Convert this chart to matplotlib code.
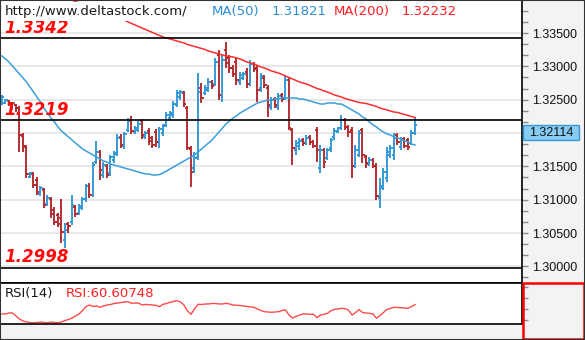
import matplotlib
matplotlib.use('Agg')
import matplotlib.pyplot as plt
from matplotlib.patches import Rectangle
from matplotlib.transforms import blended_transform_factory
import numpy as np

# ---------------- data ----------------
open_ = [1.32435, 1.32450, 1.32480, 1.32375, 1.32420, 1.32375, 1.31955, 1.31790, 1.31340, 1.31385,
         1.31295, 1.31085, 1.31145, 1.30935, 1.31010, 1.30845, 1.30770, 1.30725, 1.30395, 1.30635,
         1.30665, 1.30890, 1.30800, 1.30875, 1.31010, 1.31205, 1.31070, 1.31565, 1.31715, 1.31370,
         1.31505, 1.31400, 1.31595, 1.31685, 1.31940, 1.31805, 1.32045, 1.32195, 1.32015, 1.32045,
         1.32180, 1.31940, 1.32030, 1.31925, 1.32015, 1.31865, 1.32000, 1.32120, 1.32225, 1.32270,
         1.32420, 1.32540, 1.32600, 1.32375, 1.31760, 1.31475, 1.31640, 1.32675, 1.32600, 1.32645,
         1.32765, 1.32735, 1.33170, 1.32570, 1.33245, 1.33125, 1.32975, 1.33065, 1.32765, 1.32825,
         1.32915, 1.32735, 1.33035, 1.32975, 1.32675, 1.32825, 1.32675, 1.32390, 1.32510, 1.32390,
         1.32570, 1.32525, 1.32795, 1.32045, 1.31745, 1.31805, 1.31895, 1.31850, 1.31940, 1.31865,
         1.32045, 1.31475, 1.31745, 1.31625, 1.31775, 1.31940, 1.32015, 1.32075, 1.32195, 1.32090,
         1.32045, 1.31505, 1.31670, 1.32045, 1.31640, 1.31535, 1.31595, 1.31505, 1.31025, 1.31205,
         1.31325, 1.31670, 1.31670, 1.31970, 1.31790, 1.31910, 1.31895, 1.31850, 1.32000]
high = [1.32570, 1.32510, 1.32495, 1.32465, 1.32435, 1.32405, 1.32000, 1.31820, 1.31415, 1.31415,
        1.31340, 1.31205, 1.31175, 1.31070, 1.31040, 1.30890, 1.30800, 1.31010, 1.30650, 1.30665,
        1.31070, 1.30920, 1.30935, 1.31040, 1.31235, 1.31250, 1.31565, 1.31880, 1.31745, 1.31565,
        1.31535, 1.31670, 1.31730, 1.31985, 1.31985, 1.32015, 1.32225, 1.32255, 1.32105, 1.32180,
        1.32210, 1.32030, 1.32075, 1.31955, 1.32060, 1.32090, 1.32135, 1.32315, 1.32330, 1.32480,
        1.32645, 1.32645, 1.32630, 1.32405, 1.31805, 1.31715, 1.32900, 1.32750, 1.32720, 1.32825,
        1.32795, 1.33125, 1.33245, 1.33170, 1.33365, 1.33170, 1.33020, 1.33125, 1.32915, 1.32915,
        1.32975, 1.33095, 1.33065, 1.33020, 1.32900, 1.32870, 1.32720, 1.32540, 1.32540, 1.32600,
        1.32600, 1.32870, 1.32825, 1.32075, 1.31895, 1.31925, 1.31925, 1.31970, 1.31970, 1.31895,
        1.32090, 1.31820, 1.31775, 1.31775, 1.31925, 1.32075, 1.32090, 1.32270, 1.32225, 1.32120,
        1.32090, 1.31820, 1.32045, 1.32075, 1.31670, 1.31640, 1.31625, 1.31550, 1.31325, 1.31475,
        1.31790, 1.31820, 1.32000, 1.32000, 1.31940, 1.31940, 1.31925, 1.32045, 1.32240]
low = [1.32420, 1.32435, 1.32405, 1.32345, 1.32315, 1.31715, 1.31715, 1.31325, 1.31325, 1.31175,
       1.31070, 1.31055, 1.30875, 1.30905, 1.30725, 1.30620, 1.30590, 1.30350, 1.30275, 1.30500,
       1.30620, 1.30740, 1.30770, 1.30845, 1.30965, 1.31025, 1.31040, 1.31535, 1.31295, 1.31325,
       1.31325, 1.31355, 1.31550, 1.31655, 1.31775, 1.31760, 1.32015, 1.31985, 1.31985, 1.32015,
       1.31910, 1.31910, 1.31820, 1.31775, 1.31790, 1.31775, 1.31955, 1.32090, 1.32195, 1.32225,
       1.32390, 1.32495, 1.32390, 1.31745, 1.31190, 1.31400, 1.31595, 1.32450, 1.32570, 1.32615,
       1.32660, 1.32705, 1.32495, 1.32465, 1.32975, 1.32900, 1.32840, 1.32720, 1.32720, 1.32795,
       1.32675, 1.32705, 1.32915, 1.32465, 1.32615, 1.32675, 1.32240, 1.32345, 1.32375, 1.32345,
       1.32465, 1.32495, 1.32045, 1.31520, 1.31670, 1.31745, 1.31805, 1.31820, 1.31820, 1.31775,
       1.31565, 1.31400, 1.31475, 1.31595, 1.31715, 1.31895, 1.32000, 1.32045, 1.32045, 1.31940,
       1.31325, 1.31475, 1.31640, 1.31550, 1.31475, 1.31505, 1.31475, 1.30995, 1.30875, 1.31145,
       1.31265, 1.31625, 1.31595, 1.31820, 1.31745, 1.31775, 1.31745, 1.31820, 1.31970]
close = [1.32540, 1.32495, 1.32435, 1.32450, 1.32375, 1.31970, 1.31805, 1.31385, 1.31400, 1.31220,
         1.31115, 1.31175, 1.30920, 1.31025, 1.30785, 1.30665, 1.30635, 1.30515, 1.30545, 1.30605,
         1.30920, 1.30785, 1.30905, 1.31010, 1.31205, 1.31070, 1.31520, 1.31715, 1.31445, 1.31520,
         1.31370, 1.31640, 1.31700, 1.31925, 1.31820, 1.31985, 1.32180, 1.32030, 1.32075, 1.32135,
         1.31970, 1.32000, 1.31880, 1.31820, 1.31865, 1.32060, 1.32105, 1.32270, 1.32300, 1.32435,
         1.32600, 1.32615, 1.32435, 1.31775, 1.31415, 1.31625, 1.32615, 1.32525, 1.32675, 1.32765,
         1.32705, 1.33065, 1.32570, 1.33095, 1.33050, 1.32975, 1.32885, 1.32795, 1.32870, 1.32885,
         1.32735, 1.33035, 1.32960, 1.32645, 1.32855, 1.32720, 1.32420, 1.32495, 1.32420, 1.32555,
         1.32510, 1.32795, 1.32075, 1.31775, 1.31850, 1.31880, 1.31850, 1.31925, 1.31865, 1.31805,
         1.31745, 1.31745, 1.31565, 1.31745, 1.31895, 1.32030, 1.32075, 1.32195, 1.32090, 1.32015,
         1.31505, 1.31745, 1.32000, 1.31670, 1.31550, 1.31595, 1.31505, 1.31055, 1.31175, 1.31415,
         1.31715, 1.31775, 1.31925, 1.31865, 1.31895, 1.31805, 1.31790, 1.32000, 1.32114]
ma50 = [1.33155, 1.33110, 1.33065, 1.33005, 1.32945, 1.32885, 1.32825, 1.32765, 1.32690, 1.32615,
        1.32540, 1.32465, 1.32375, 1.32300, 1.32225, 1.32165, 1.32090, 1.32030, 1.31985, 1.31940,
        1.31895, 1.31850, 1.31805, 1.31760, 1.31730, 1.31700, 1.31670, 1.31640, 1.31610, 1.31580,
        1.31565, 1.31535, 1.31520, 1.31505, 1.31490, 1.31475, 1.31460, 1.31445, 1.31430, 1.31415,
        1.31400, 1.31385, 1.31385, 1.31370, 1.31370, 1.31377, 1.31400, 1.31430, 1.31460, 1.31490,
        1.31520, 1.31550, 1.31580, 1.31610, 1.31640, 1.31670, 1.31715, 1.31760, 1.31805, 1.31850,
        1.31895, 1.31955, 1.32015, 1.32075, 1.32135, 1.32180, 1.32225, 1.32255, 1.32300, 1.32330,
        1.32360, 1.32390, 1.32420, 1.32450, 1.32465, 1.32480, 1.32495, 1.32495, 1.32510, 1.32510,
        1.32525, 1.32525, 1.32525, 1.32525, 1.32525, 1.32510, 1.32510, 1.32495, 1.32480, 1.32465,
        1.32450, 1.32435, 1.32435, 1.32450, 1.32450, 1.32450, 1.32435, 1.32435, 1.32405, 1.32375,
        1.32345, 1.32315, 1.32285, 1.32240, 1.32210, 1.32165, 1.32120, 1.32090, 1.32045, 1.32015,
        1.31985, 1.31970, 1.31940, 1.31925, 1.31910, 1.31880, 1.31865, 1.31835, 1.31821]
ma200 = [1.34445, 1.34423, 1.34400, 1.34378, 1.34355, 1.34333, 1.34310, 1.34288, 1.34265, 1.34243,
         1.34220, 1.34198, 1.34175, 1.34153, 1.34130, 1.34108, 1.34085, 1.34063, 1.34040, 1.34018,
         1.33995, 1.33973, 1.33950, 1.33928, 1.33905, 1.33883, 1.33860, 1.33838, 1.33815, 1.33800,
         1.33778, 1.33755, 1.33740, 1.33725, 1.33710, 1.33695, 1.33665, 1.33643, 1.33620, 1.33598,
         1.33575, 1.33553, 1.33530, 1.33508, 1.33485, 1.33463, 1.33440, 1.33425, 1.33410, 1.33395,
         1.33380, 1.33365, 1.33350, 1.33328, 1.33313, 1.33298, 1.33283, 1.33268, 1.33253, 1.33230,
         1.33215, 1.33200, 1.33185, 1.33170, 1.33155, 1.33148, 1.33140, 1.33125, 1.33110, 1.33088,
         1.33065, 1.33050, 1.33035, 1.33013, 1.32990, 1.32975, 1.32953, 1.32930, 1.32915, 1.32900,
         1.32878, 1.32855, 1.32833, 1.32810, 1.32788, 1.32765, 1.32750, 1.32735, 1.32713, 1.32690,
         1.32668, 1.32653, 1.32630, 1.32615, 1.32593, 1.32570, 1.32555, 1.32540, 1.32518, 1.32503,
         1.32488, 1.32473, 1.32458, 1.32450, 1.32443, 1.32428, 1.32413, 1.32398, 1.32375, 1.32360,
         1.32345, 1.32330, 1.32315, 1.32308, 1.32293, 1.32278, 1.32263, 1.32248, 1.32232]
rsi = [42, 42, 44, 44, 38, 32, 28, 26, 25, 24.6,
       25, 26, 25, 24.6, 26, 25, 24.6, 26, 29, 31,
       34, 38, 42, 49, 57, 60, 57, 58, 55.4, 58,
       60, 61, 63, 64, 65, 66, 66.6, 63.4, 64, 64,
       60, 61, 60.6, 60, 59.4, 56.6, 61.4, 63, 65.4, 67,
       68.6, 66, 60, 48, 41.4, 52, 61.4, 61, 62, 62,
       63, 63, 62, 62, 63.4, 62, 60, 59.4, 59, 58,
       57, 56, 55.4, 52, 49, 46.6, 46, 45.4, 46, 46.6,
       49, 50, 40, 34, 37, 40, 42, 42, 41.4, 41.4,
       34.6, 40, 41.4, 43.4, 48.6, 51.4, 52, 53.4, 52.6, 50,
       40, 44.6, 51, 45, 44, 43.4, 42, 33.4, 39, 45,
       51.4, 53, 55.4, 55, 54.6, 54, 53.4, 57, 60.60748]
levels = [1.3342, 1.3219, 1.2998]
price_ticks = [1.300, 1.305, 1.310, 1.315, 1.320, 1.325, 1.330, 1.335]
site = "http://www.deltastock.com/"

# ---------------- styling ----------------
UP = '#2F97D5'
DOWN = '#B3262A'
MA50_C = '#3A9EDB'
MA200_C = '#FF2E2E'
W, H = 585, 340

fig = plt.figure(figsize=(W / 100, H / 100), dpi=100)
fig.patch.set_facecolor('#F3F3F3')

ax = fig.add_axes([0, 57 / H, 522 / W, 283 / H])
ax.set_facecolor('white')
x = np.arange(len(close))
o = np.array(open_); hi = np.array(high); lo = np.array(low); c = np.array(close)
up = c >= o
cols = np.where(up, UP, DOWN)
tick = 0.6
lw = 1.35
ax.vlines(x, lo, hi, colors=cols, lw=lw, zorder=3)
ax.hlines(o, x - tick, x, colors=cols, lw=lw, zorder=3)
ax.hlines(c, x, x + tick, colors=cols, lw=lw, zorder=3)
ax.plot(x, ma50, color=MA50_C, lw=1.1, zorder=4)
ax.plot(x, ma200, color=MA200_C, lw=1.1, zorder=4)

for t in price_ticks:
    ax.axhline(t, color='#E6E6E6', lw=1.3, zorder=0)
for lv in levels:
    ax.axhline(lv, color='black', lw=1.2, zorder=5)
    ax.annotate(f'{lv:.4f}', xy=(4 / 522, lv), xycoords=('axes fraction', 'data'),
                xytext=(0, 3.8), textcoords='offset points', va='baseline', ha='left',
                fontsize=12, fontweight='bold', fontstyle='italic', color='#FF0A0A',
                family='DejaVu Sans', zorder=6)

ax.set_xlim(-2 / 3.5, 520 / 3.5)
ax.set_ylim(1.2975, 1.33995)
ax.set_xticks([])
ax.yaxis.tick_right()
ax.set_yticks(price_ticks)
minor = [t + d for t in price_ticks for d in (0.005 / 3, 0.01 / 3)] + [1.300 - 0.005 / 3]
ax.set_yticks(minor, minor=True)

# current price box geometry (box hangs below the last close)
bh = 0.00225
last = close[-1]
ax.set_yticklabels(['' if (last - bh - 0.0008) < t < (last + 0.0008) else f'{t:.5f}'
                    for t in price_ticks])
ax.tick_params(axis='y', which='both', direction='out', length=4, width=1,
               color='#8C8C8C', pad=3, labelsize=9, labelcolor='#111111')
for lab in ax.get_yticklabels():
    lab.set_family('Liberation Sans')
for s in ('left', 'top'):
    ax.spines[s].set_visible(False)
for s in ('right', 'bottom'):
    ax.spines[s].set_color('black')
    ax.spines[s].set_linewidth(1.2)

tr = blended_transform_factory(ax.transAxes, ax.transData)
ax.add_patch(Rectangle((1 + 1 / 522, last - bh), 56 / 522, bh, transform=tr,
                       facecolor='#87CCF2', edgecolor='#3A98D0', lw=1, clip_on=False, zorder=10))
ax.text(1 + 29 / 522, last - bh / 2, f'{last:.5f}', transform=tr, ha='center',
        va='center', fontsize=9, family='Liberation Sans', color='#111111', clip_on=False,
        zorder=11)

# header texts
def ft(xp, yp, s, color, **kw):
    fig.text(xp / W, 1 - yp / H, s, color=color, fontsize=9.5, family='DejaVu Sans',
             va='baseline', ha='left', **kw)

ft(5, 15, site, '#1A1A1A', bbox=dict(facecolor='white', edgecolor='none', pad=1.8))
ft(212, 15, 'MA(50)', '#2C8ED2')
ft(272, 15, f'{ma50[-1]:.5f}', '#2C8ED2')
ft(334, 15, 'MA(200)', '#FF1E1E')
ft(402, 15, f'{ma200[-1]:.5f}', '#FF1E1E')

# RSI panel
rx = fig.add_axes([0, 16 / H, 522 / W, 41 / H])
rx.set_facecolor('white')
rx.plot(x, rsi, color='#FF4A4A', lw=1.0)
rx.set_xlim(-2 / 3.5, 520 / 3.5)
rx.set_ylim(22, 104)
rx.set_xticks([])
rx.yaxis.tick_right()
rx.set_yticks([30, 52, 74, 96])
rx.set_yticklabels([])
rx.tick_params(axis='y', direction='out', length=4, width=1, color='#8C8C8C')
rx.spines['left'].set_visible(False)
for s in ('right', 'bottom', 'top'):
    rx.spines[s].set_color('black')
    rx.spines[s].set_linewidth(1.2)
ft(5, 297, 'RSI(14)', '#1A1A1A')
ft(66, 297, f'RSI:{rsi[-1]:.5f}', '#FF2020')

# red frame at bottom right & outer border
fig.add_artist(Rectangle((522.5 / W, 1.2 / H), 61 / W, 56 / H, transform=fig.transFigure,
                         fill=False, edgecolor='#FF0000', lw=1.8))
fig.add_artist(Rectangle((0, 0), 1, 1, transform=fig.transFigure, fill=False,
                         edgecolor='#333333', lw=1.5))

fig.savefig('out.png', dpi=100, facecolor=fig.get_facecolor())
